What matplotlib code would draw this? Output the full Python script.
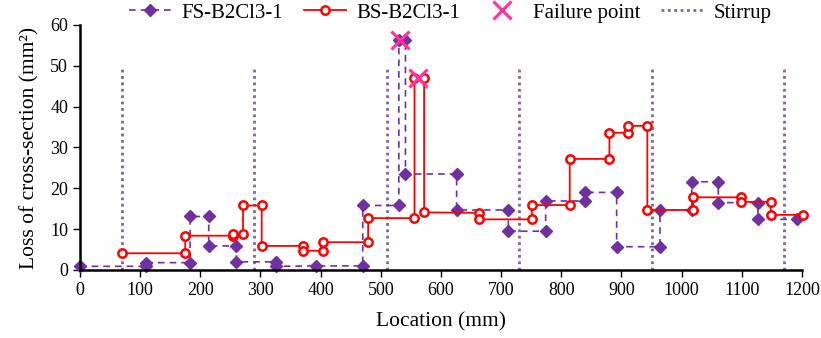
import matplotlib.pyplot as plt

plt.rcParams['font.family'] = ['Liberation Serif', 'DejaVu Serif']

# FS-B2Cl3-1 (step profile)
fs_x = [0, 110, 110, 183, 183, 214, 214, 260, 260, 326, 326, 393, 470, 470, 530, 530,
        541, 541, 626, 626, 712, 712, 774, 774, 839, 839, 892, 892, 964, 964,
        1017, 1017, 1061, 1061, 1127, 1127, 1191]
fs_y = [0.9, 0.9, 1.8, 1.8, 13.1, 13.1, 5.9, 5.9, 2.0, 2.0, 0.9, 1.0, 1.0, 15.8, 15.8, 56.2,
        56.2, 23.5, 23.5, 14.7, 14.7, 9.5, 9.5, 16.9, 16.9, 19.0, 19.0, 5.7, 5.7, 14.7,
        14.7, 21.6, 21.6, 16.5, 16.5, 12.4, 12.4]

# BS-B2Cl3-1 (step profile)
bs_x = [70, 175, 175, 254, 254, 271, 271, 302, 302, 371, 371, 404, 404, 479, 479, 556,
        556, 572, 572, 664, 664, 751, 751, 814, 814, 880, 880, 911, 911, 943, 943,
        1019, 1019, 1098, 1098, 1148, 1148, 1201]
bs_y = [4.1, 4.1, 8.4, 8.4, 8.8, 8.8, 15.8, 15.8, 5.9, 5.9, 4.7, 4.7, 6.8, 6.8, 12.7, 12.7,
        47.0, 47.0, 14.1, 14.0, 12.4, 12.4, 15.9, 15.9, 27.2, 27.2, 33.6, 33.6, 35.3, 35.3, 14.7,
        14.7, 17.8, 17.8, 16.7, 16.7, 13.5, 13.5]

fail_x = [532, 562]
fail_y = [56.2, 47.0]

stirrup_x = [70, 290, 510, 730, 950, 1170]
stirrup_top = 50

fig = plt.figure(figsize=(8.21, 3.38), dpi=100)
ax = fig.add_axes([0.0974, 0.2012, 0.8794, 0.7249])

for i, sx in enumerate(stirrup_x):
    ax.plot([sx, sx], [0, stirrup_top], color='#8064A2', linestyle=(0, (1, 1.3)),
            linewidth=2, label='Stirrup' if i == 0 else None, zorder=1)

ax.plot(fs_x, fs_y, color='#7030A0', linestyle=(0, (4, 3)), linewidth=1.2,
        marker='D', markersize=6.5, markerfacecolor='#7030A0', markeredgecolor='#7030A0',
        label='FS-B2Cl3-1', zorder=2, clip_on=False)
ax.plot(bs_x, bs_y, color='#FF0000', linestyle='-', linewidth=1.3,
        marker='o', markersize=6, markerfacecolor='white', markeredgecolor='#FF0000',
        markeredgewidth=1.8, label='BS-B2Cl3-1', zorder=3, clip_on=False)
ax.plot(fail_x, fail_y, linestyle='none', marker='x', markersize=13,
        markeredgewidth=2.2, color='#FF3399', label='Failure point', zorder=4)

ax.set_xlim(0, 1200)
ax.set_ylim(0, 60)
ax.set_xticks(range(0, 1201, 100))
ax.set_yticks(range(0, 61, 10))
ax.spines['top'].set_visible(False)
ax.spines['right'].set_visible(False)
ax.spines['left'].set_linewidth(1.8)
ax.spines['bottom'].set_linewidth(1.8)
ax.tick_params(direction='out', length=5, width=1, labelsize=13)
ax.set_xlabel('Location (mm)', fontsize=15.5, labelpad=10)
ax.set_ylabel('Loss of cross-section (mm²)', fontsize=15.5, labelpad=8)

h, l = ax.get_legend_handles_labels()
order = [l.index(n) for n in ['FS-B2Cl3-1', 'BS-B2Cl3-1', 'Failure point', 'Stirrup']]
ax.legend([h[i] for i in order], [l[i] for i in order], ncol=4, frameon=False,
          loc='lower center', bbox_to_anchor=(0.513, 0.975), fontsize=15,
          handlelength=2.0, columnspacing=1.0, handletextpad=0.5, borderaxespad=0)

fig.savefig('out.png', dpi=100)
